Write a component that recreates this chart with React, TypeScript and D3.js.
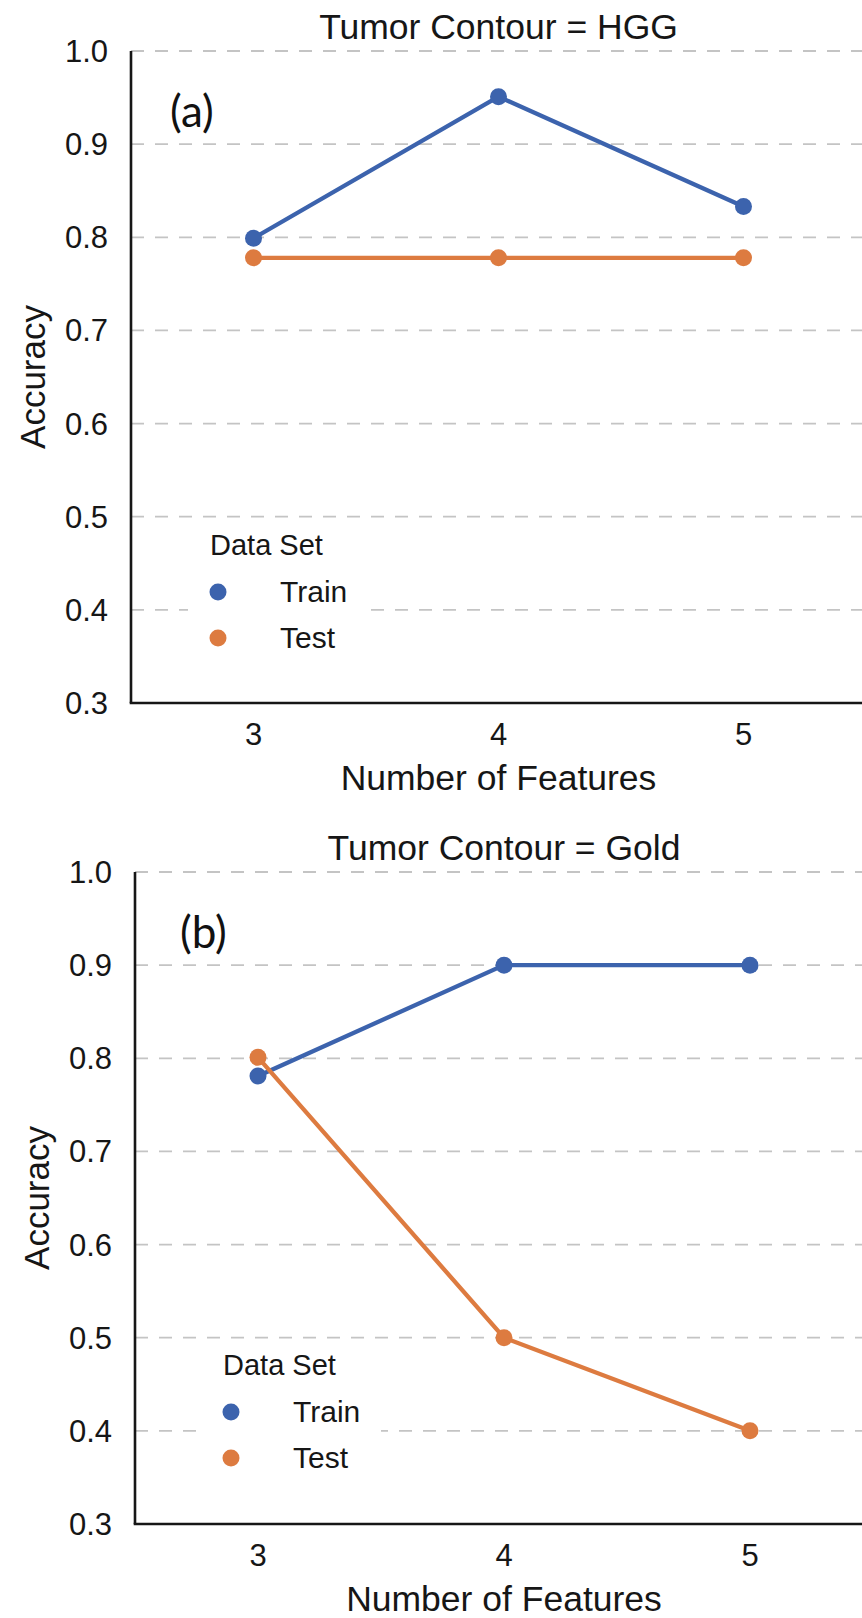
import React from 'react';
import * as d3 from 'd3';

// categories + values
const features = ['3', '4', '5'];
const yTicks = [0.3, 0.4, 0.5, 0.6, 0.7, 0.8, 0.9, 1.0];
const seriesNames = ['Train', 'Test'];
const hggTrain = [0.799, 0.951, 0.833];
const hggTest = [0.778, 0.778, 0.778];
const goldTrain = [0.781, 0.9, 0.9];
const goldTest = [0.801, 0.5, 0.4];

const W = 862;
const H = 1618;
const colors: Record<string, string> = { Train: '#3c63ad', Test: '#dd7b40' };
const font = '"Liberation Sans", Arial, sans-serif';
const ink = '#161616';

type PanelProps = {
  title: string;
  tag: string;
  train: number[];
  test: number[];
  left: number;
  right: number;
  top: number;
  bottom: number;
  tagX: number;
  legendX: number;
  legendY: number;
};

function Panel({ title, tag, train, test, left, right, top, bottom, tagX, legendX, legendY }: PanelProps) {
  const x = d3.scalePoint<string>().domain(features).range([left, right]).padding(0.5);
  const y = d3.scaleLinear().domain([0.3, 1.0]).range([bottom, top]);
  const line = d3.line<number>()
    .x((_, i) => x(features[i])!)
    .y(d => y(d));
  const mid = x('4')!;
  const series = [
    { name: 'Train', values: train },
    { name: 'Test', values: test },
  ];

  return (
    <g>
      {/* grid */}
      {yTicks.filter(t => t > 0.3).map(t => (
        <line key={t} x1={left} x2={W} y1={y(t)} y2={y(t)}
          stroke="#c4c4c4" strokeWidth={1.8} strokeDasharray="13,11" />
      ))}

      {/* legend background hides the grid */}
      <rect x={legendX - 30} y={legendY - 70} width={180} height={145} fill="#fff" />

      {/* axes */}
      <line x1={left} x2={left} y1={top} y2={bottom} stroke={ink} strokeWidth={2.6} />
      <line x1={left - 1.3} x2={W} y1={bottom} y2={bottom} stroke={ink} strokeWidth={2.6} />

      {yTicks.map(t => (
        <text key={t} x={left - 23} y={y(t) + 11} textAnchor="end"
          fontFamily={font} fontSize={31} fill={ink}>{t.toFixed(1)}</text>
      ))}
      {features.map(f => (
        <text key={f} x={x(f)} y={bottom + 42} textAnchor="middle"
          fontFamily={font} fontSize={31} fill={ink}>{f}</text>
      ))}

      <text x={mid} y={bottom + 87} textAnchor="middle" fontFamily={font} fontSize={35.5} fill={ink}>
        Number of Features
      </text>
      <text transform={`translate(${left - 86},${(top + bottom) / 2}) rotate(-90)`}
        textAnchor="middle" fontFamily={font} fontSize={35} fill={ink}>Accuracy</text>
      <text x={mid} y={top - 12} textAnchor="middle" fontFamily={font} fontSize={35.5} fill={ink}>
        {title}
      </text>

      <text x={tagX} y={top + 76} fontFamily="Lato, 'Open Sans', sans-serif" fontSize={44} fill="#111">
        {tag}
      </text>

      {/* lines + points */}
      {series.map(s => (
        <g key={s.name}>
          <path d={line(s.values) ?? ''} fill="none" stroke={colors[s.name]} strokeWidth={4.3} />
          {s.values.map((v, i) => (
            <circle key={i} cx={x(features[i])} cy={y(v)} r={8.5} fill={colors[s.name]} />
          ))}
        </g>
      ))}

      {/* legend */}
      <text x={legendX - 8} y={legendY - 37} fontFamily={font} fontSize={29} fill={ink}>Data Set</text>
      {seriesNames.map((n, i) => (
        <g key={n}>
          <circle cx={legendX} cy={legendY + i * 46} r={8.5} fill={colors[n]} />
          <text x={legendX + 62} y={legendY + i * 46 + 10} fontFamily={font} fontSize={30} fill={ink}>{n}</text>
        </g>
      ))}
    </g>
  );
}

export default function App() {
  return (
    <svg width={W} height={H} viewBox={`0 0 ${W} ${H}`}
      style={{ position: 'absolute', left: 0, top: 0, background: '#fff', display: 'block' }}>
      <rect width={W} height={H} fill="#fff" />
      <Panel title="Tumor Contour = HGG" tag="(a)" train={hggTrain} test={hggTest}
        left={131} right={866} top={51} bottom={703} tagX={170} legendX={218} legendY={592} />
      <Panel title="Tumor Contour = Gold" tag="(b)" train={goldTrain} test={goldTest}
        left={135} right={873} top={872} bottom={1524} tagX={180} legendX={231} legendY={1412} />
    </svg>
  );
}
